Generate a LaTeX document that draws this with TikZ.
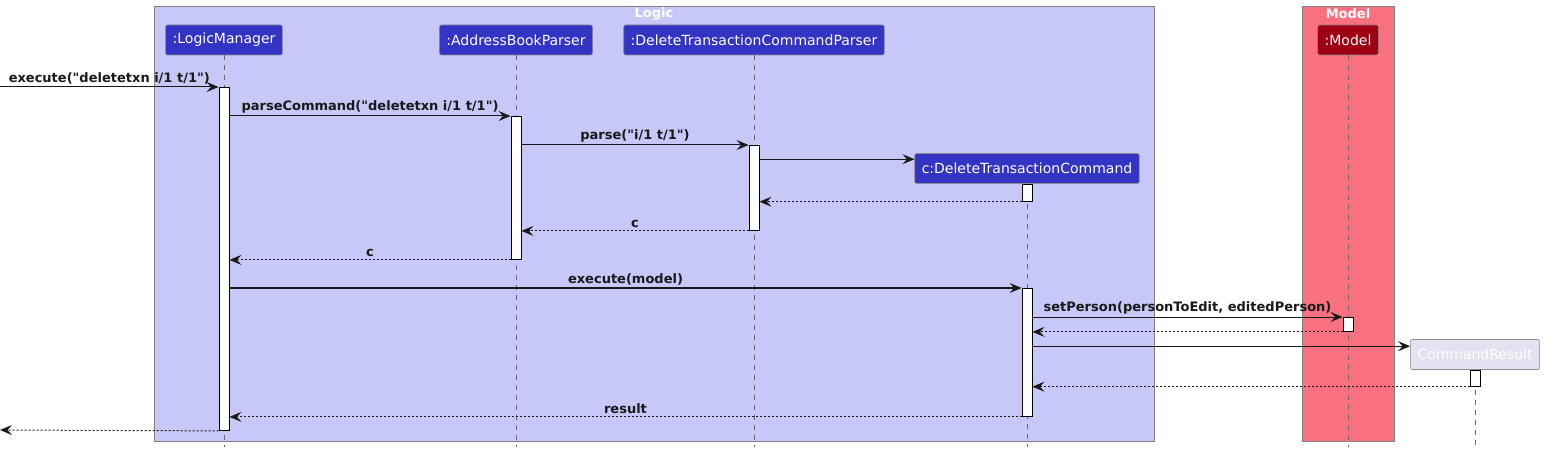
\documentclass[tikz,border=0pt]{standalone}
\usepackage{fontspec}
\setmainfont{DejaVu Sans}[Ligatures=TeXOff]
\usetikzlibrary{arrows.meta}
\definecolor{logicbg}{HTML}{C8C8F8}
\definecolor{modelbg}{HTML}{F97181}
\definecolor{logicfg}{HTML}{3333C4}
\definecolor{modelfg}{HTML}{9D0012}
\definecolor{resultbg}{HTML}{E2E2F0}
\begin{document}
\begin{tikzpicture}[x=1pt, y=-1pt,
    part/.style={draw=black!45, line width=0.6pt, rounded corners=2pt, text=white, minimum height=30pt, inner xsep=7pt, inner ysep=0pt, font=\fontsize{14}{16}\selectfont},
    act/.style={draw=black, fill=white, line width=0.9pt, minimum width=10pt, inner sep=0pt, anchor=north},
    life/.style={draw=black!60, line width=0.6pt, dash pattern=on 5pt off 5pt},
    msg/.style={-{Stealth[length=12pt, width=10pt, inset=4.5pt]}, line width=1pt, draw=black!90},
    ret/.style={msg, dash pattern=on 2pt off 2pt},
    txt/.style={font=\fontsize{13}{15}\selectfont\bfseries, text=black!90, inner sep=2.5pt},
    grouptitle/.style={font=\fontsize{13}{15}\selectfont\bfseries, text=white, inner sep=0pt}]
    \useasboundingbox (0,0) rectangle (1544,454);
    \draw[draw=black!50, fill=logicbg] (154,6) rectangle (1154,441);
    \node[grouptitle] at (654,14) {Logic};
    \draw[draw=black!50, fill=modelbg] (1302,6) rectangle (1394,441);
    \node[grouptitle] at (1348,14) {Model};
    \node[part, fill=logicfg] (lm) at (224,40) {:LogicManager};
    \node[part, fill=logicfg] (abp) at (516,40) {:AddressBookParser};
    \node[part, fill=logicfg] (dtcp) at (754,40) {:DeleteTransactionCommandParser};
    \node[part, fill=modelfg] (mdl) at (1348,40) {:Model};
    \node[part, fill=logicfg] (dtc) at (1027,168.5) {c:DeleteTransactionCommand};
    \node[part, fill=resultbg] (cr) at (1475,354.5) {CommandResult};
    \foreach \p in {lm, abp, dtcp, mdl, dtc, cr}
        \draw[life] (\p.south) -- (\p.south |- 0,447);
    \node[act, minimum height=343pt] (actLM) at (lm |- 0,87) {};
    \node[act, minimum height=143pt] (actABP) at (abp |- 0,116) {};
    \node[act, minimum height=85pt] (actDTCP) at (dtcp |- 0,145) {};
    \node[act, minimum height=17pt] (actDTC) at (dtc.south) {};
    \node[act, minimum height=128pt] (actExec) at (dtc |- 0,288) {};
    \node[act, minimum height=14pt] (actMdl) at (mdl |- 0,317) {};
    \node[act, minimum height=16pt] (actCR) at (cr.south) {};
    \coordinate (in) at (0,87);
    \coordinate (out) at (0,430);
    \coordinate (newDtc) at ([yshift=-6pt]dtc.north west);
    \coordinate (newCr) at ([yshift=-7pt]cr.north west);
    \draw[msg] (in) -- node[txt, above] {execute("deletetxn i/1 t/1")} (actLM.north west);
    \draw[msg] (actLM.east |- actABP.north) -- node[txt, above] {parseCommand("deletetxn i/1 t/1")} (actABP.north west);
    \draw[msg] (actABP.east |- actDTCP.north) -- node[txt, above] {parse("i/1 t/1")} (actDTCP.north west);
    \draw[msg] (actDTCP.east |- newDtc) -- (newDtc);
    \draw[ret] (actDTC.south west) -- (actDTCP.east |- actDTC.south);
    \draw[ret] (actDTCP.south west) -- node[txt, above] {c} (actABP.east |- actDTCP.south);
    \draw[ret] (actABP.south west) -- node[txt, above] {c} (actLM.east |- actABP.south);
    \draw[msg] (actLM.east |- actExec.north) -- node[txt, above] {execute(model)} (actExec.north west);
    \draw[msg] (actExec.east |- actMdl.north) -- node[txt, above] {setPerson(personToEdit, editedPerson)} (actMdl.north west);
    \draw[ret] (actMdl.south west) -- (actExec.east |- actMdl.south);
    \draw[msg] (actExec.east |- newCr) -- (newCr);
    \draw[ret] (actCR.south west) -- (actExec.east |- actCR.south);
    \draw[ret] (actExec.south west) -- node[txt, above] {result} (actLM.east |- actExec.south);
    \draw[ret] (actLM.south west) -- (out);
\end{tikzpicture}
\end{document}
